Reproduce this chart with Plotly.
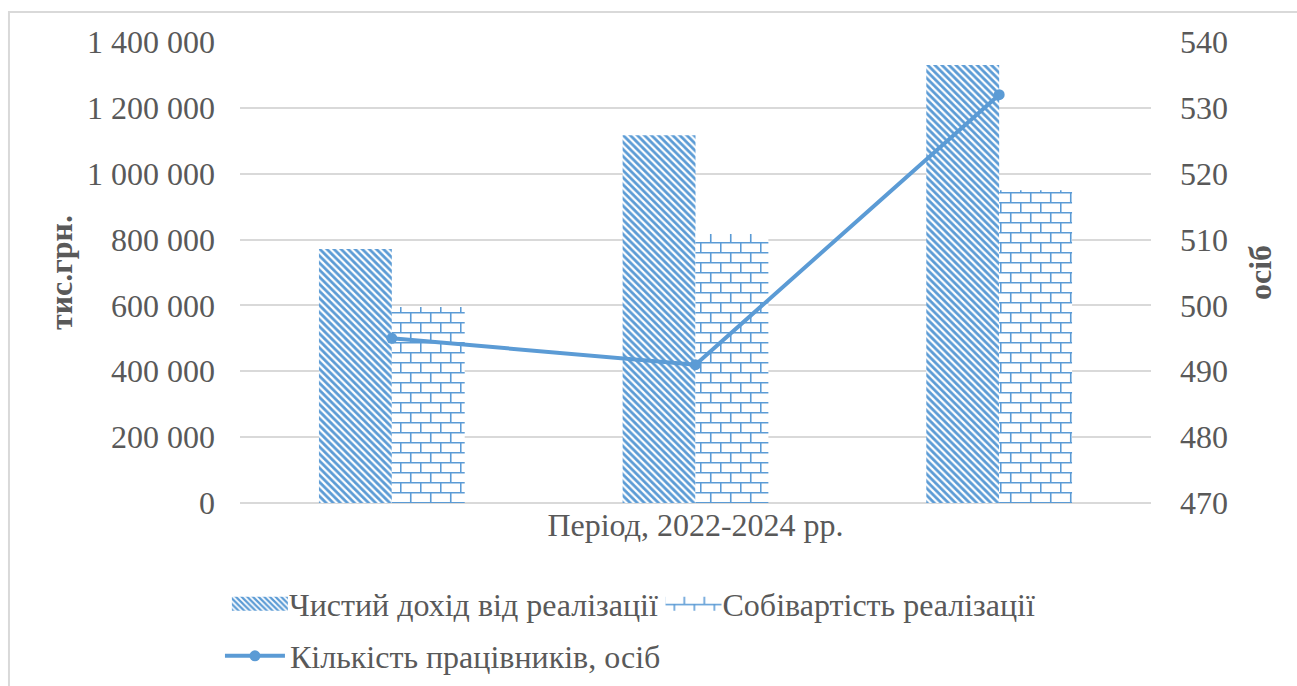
import plotly.graph_objects as go

# Data
years = ["2022", "2023", "2024"]
revenue = [771000, 1117000, 1330000]      # Чистий дохід від реалізації, тис. грн
cost = [595000, 817000, 950000]           # Собівартість реалізації, тис. грн
staff = [495, 491, 532]                   # Кількість працівників, осіб

BLUE = "#5B9BD5"
TEXT = "#595959"
GRID = "#D9D9D9"
FONT = "Liberation Serif"
FS = 32

fig = go.Figure()

fig.add_trace(go.Bar(
    x=years, y=revenue, name="Чистий дохід від реалізації", uid="revenue",
    legend="legend",
    marker=dict(color=BLUE, line=dict(width=0),
                pattern=dict(shape="\\", size=5, solidity=0.55,
                             fgcolor=BLUE, bgcolor="white", fillmode="replace")),
))
fig.add_trace(go.Bar(
    x=years, y=cost, name="Собівартість реалізації", uid="cost",
    legend="legend2",
    marker=dict(color=BLUE, line=dict(width=0),
                pattern=dict(shape="+", size=10, solidity=0.15,
                             fgcolor=BLUE, bgcolor="white", fillmode="replace")),
))
fig.add_trace(go.Scatter(
    x=years, y=staff, name="Кількість працівників, осіб", yaxis="y2",
    legend="legend3", mode="lines+markers",
    line=dict(color=BLUE, width=4), marker=dict(color=BLUE, size=11),
))

legend_common = dict(bgcolor="rgba(0,0,0,0)", font=dict(family=FONT, size=FS, color=TEXT),
                     xanchor="left", yanchor="middle")

fig.update_layout(
    width=1297, height=686,
    margin=dict(l=240, r=146, t=42, b=183, autoexpand=False),
    paper_bgcolor="white", plot_bgcolor="white",
    barmode="group", bargap=0.52, bargroupgap=0,
    separators=", ",
    font=dict(family=FONT, size=FS, color=TEXT),
    showlegend=True,
    xaxis=dict(showticklabels=False, ticks="", showgrid=False, showline=False, zeroline=False,
               title=dict(text="Період, 2022-2024 рр.", standoff=10,
                          font=dict(family=FONT, size=FS, color=TEXT))),
    yaxis=dict(range=[0, 1400000], dtick=200000, tickformat=",d",
               showgrid=True, gridcolor=GRID, gridwidth=1.5,
               zeroline=True, zerolinecolor=GRID, zerolinewidth=1.5,
               showline=False, ticks="", ticklabelstandoff=24,
               tickfont=dict(family=FONT, size=FS, color=TEXT),
               title=dict(text="<b>тис.грн.</b>", standoff=4,
                          font=dict(family=FONT, size=FS, color=TEXT))),
    yaxis2=dict(overlaying="y", side="right", range=[470, 540], dtick=10,
                showgrid=False, zeroline=False, showline=False, ticks="",
                ticklabelstandoff=28,
                tickfont=dict(family=FONT, size=FS, color=TEXT),
                title=dict(text="<b>осіб</b>", standoff=21,
                           font=dict(family=FONT, size=FS, color=TEXT))),
    legend=dict(x=-0.010, y=-0.219, itemwidth=48, **legend_common),
    legend2=dict(x=0.466, y=-0.219, itemwidth=48, **legend_common),
    legend3=dict(x=-0.022, y=-0.332, itemwidth=60, **legend_common),
    shapes=[dict(type="rect", xref="paper", yref="paper",
                 x0=-0.2536, x1=1.6, y0=-1.0, y1=1.065,
                 line=dict(color=GRID, width=2), fillcolor="rgba(0,0,0,0)", layer="below")],
)

# Brick fill for the cost bars, wider swatches for the bar legend entries
post_js = """
var gd = document.getElementById('{plot_id}');
function brickify() {
  var ns = 'http://www.w3.org/2000/svg';
  gd.querySelectorAll('pattern[id*="cost"]').forEach(function (pat) {
    if (pat.getAttribute('data-brick')) return;
    pat.setAttribute('data-brick', '1');
    while (pat.firstChild) pat.removeChild(pat.firstChild);
    pat.setAttribute('width', '20');
    pat.setAttribute('height', '20');
    pat.removeAttribute('patternTransform');
    var r = document.createElementNS(ns, 'rect');
    r.setAttribute('width', '20'); r.setAttribute('height', '20');
    r.setAttribute('fill', '#ffffff');
    pat.appendChild(r);
    var p = document.createElementNS(ns, 'path');
    p.setAttribute('d', 'M0,0.75H20M0,10.75H20M0.75,0V10.75M10.75,10.75V20');
    p.setAttribute('stroke', '#5B9BD5');
    p.setAttribute('stroke-width', '1.6');
    p.setAttribute('fill', 'none');
    pat.appendChild(p);
  });
  ['legend', 'legend2'].forEach(function (lid) {
    gd.querySelectorAll('.' + lid + ' .legendpoints path').forEach(function (p) {
      p.setAttribute('d', 'M28,7H-28V-7H28Z');
    });
  });
}
brickify();
gd.on('plotly_afterplot', brickify);
"""

fig.write_html("out.html", post_script=post_js)
